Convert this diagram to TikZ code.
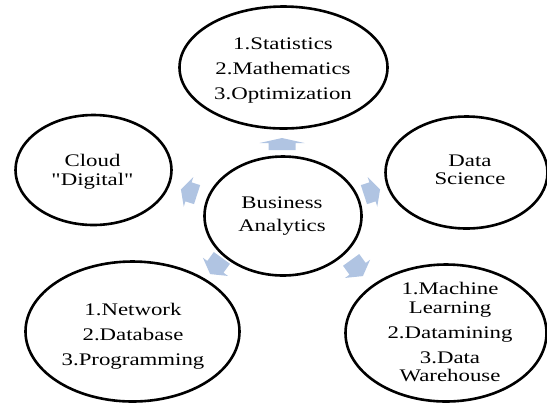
\documentclass[tikz,border=0pt]{standalone}
\usepackage{fontspec}
\setmainfont{Liberation Serif}[FakeStretch=1.29, Ligatures=TeXOff]
\usetikzlibrary{shapes.geometric}

\definecolor{arrowblue}{RGB}{176,196,226}

\tikzset{
  bubble/.style={ellipse, draw=black, line width=2.6bp, inner sep=0pt},
  caption/.style={align=center, inner sep=0pt,
    font=\fontsize{17.7bp}{18.4bp}\selectfont},
  arrowfill/.style={fill=arrowblue, draw=none},
  % flat block arrow: #1 length, #2 shaft width, #3 head width, #4 head length
  pics/outarrow/.style n args={4}{code={
    \fill[arrowfill] (-#1/2,-#2/2) -- (#1/2-#4,-#2/2) -- (#1/2-#4,-#3/2)
      -- (#1/2,0) -- (#1/2-#4,#3/2) -- (#1/2-#4,#2/2) -- (-#1/2,#2/2) -- cycle;
  }}
}

\begin{document}
\begin{tikzpicture}[x=1bp,y=-1bp]
\useasboundingbox (0,0) rectangle (547,405);

% outlines of the hub and its five satellites
\node[bubble, minimum width=208bp, minimum height=122bp] (stats) at (283.5,67.5) {};
\node[bubble, minimum width=156bp, minimum height=110bp] (cloud) at (93.5,170) {};
\node[bubble, minimum width=162bp, minimum height=112bp] (dsci)  at (466.5,172.5) {};
\node[bubble, minimum width=214bp, minimum height=140bp] (it)    at (132.5,331.5) {};
\node[bubble, minimum width=201bp, minimum height=137bp] (ml)    at (446,333) {};
\node[bubble, minimum width=157bp, minimum height=119bp] (hub)   at (283,216) {};

% captions
\node[caption] (statsT) at (283,70.9)
  {1.Statistics\\[6.6bp]2.Mathematics\\[6.6bp]3.Optimization};
\node[caption] (cloudT) at (92.5,171.7) {Cloud\\"Digital"};
\node[caption] (dsciT)  at (470,169.7) {Data\\Science};
\node[caption] (itT)    at (133,335.9)
  {1.Network\\[6.6bp]2.Database\\[6.6bp]3.Programming};
\node[caption] (mlT)    at (450,332.2)
  {1.Machine\\Learning\\[6.6bp]2.Datamining\\[6.6bp]3.Data\\Warehouse};
\node[caption] (hubT)   at (282,216.1) {Business\\[5bp]Analytics};

% outward arrows from the hub
\pic[rotate=90]   at (282,144) {outarrow={12}{27}{45}{5}};
\pic[rotate=18]   at (372,192) {outarrow={17}{20}{31}{8}};
\pic[rotate=162]  at (189,192) {outarrow={17}{20}{31}{8}};
\pic[rotate=-54]  at (357,268) {outarrow={20}{20}{31}{9}};
\pic[rotate=-126] at (216,266) {outarrow={20}{20}{31}{9}};
\end{tikzpicture}
\end{document}
